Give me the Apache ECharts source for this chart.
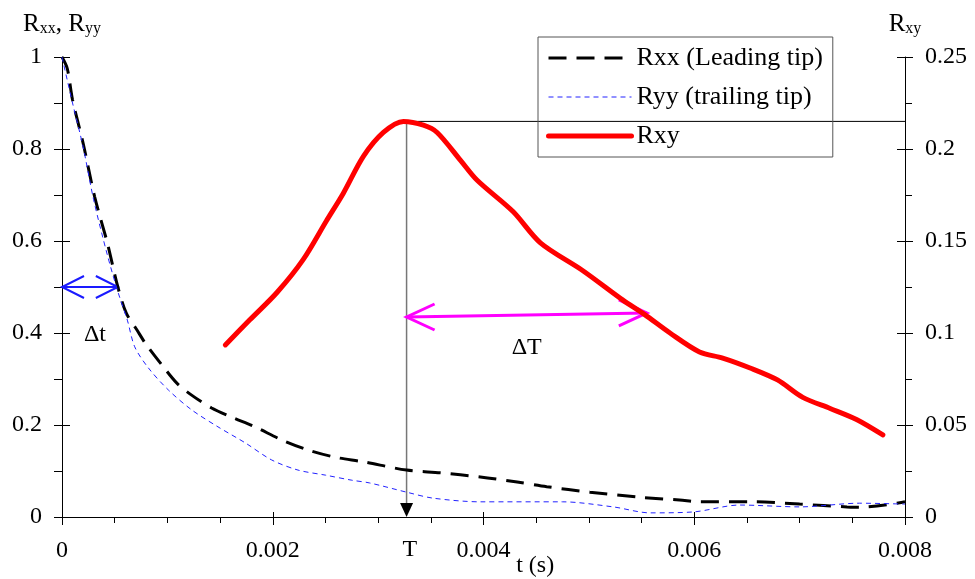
<!DOCTYPE html>
<html><head><meta charset="utf-8">
<script src="https://cdn.jsdelivr.net/npm/echarts@6/dist/echarts.min.js"></script>
<style>html,body{margin:0;padding:0;background:#fff}#c{width:975px;height:579px}</style>
</head><body><div id="c"></div>
<script>
// ---- data ----
const rxxT = [0, 0.00005, 0.0001, 0.0002, 0.00031, 0.00043, 0.00053, 0.00061, 0.00071, 0.00079, 0.00095, 0.00109, 0.00123, 0.00142, 0.00161, 0.00183, 0.00209, 0.00233, 0.00259, 0.00286, 0.00327, 0.00359, 0.00397, 0.00432, 0.0046, 0.00501, 0.00548, 0.00586, 0.00605, 0.00656, 0.007, 0.00745, 0.00757, 0.008];
const rxxV = [1.0, 0.975, 0.907, 0.813, 0.696, 0.596, 0.50, 0.443, 0.407, 0.378, 0.330, 0.291, 0.265, 0.237, 0.217, 0.196, 0.167, 0.146, 0.130, 0.120, 0.102, 0.096, 0.087, 0.076, 0.066, 0.054, 0.043, 0.037, 0.033, 0.033, 0.028, 0.022, 0.021, 0.033];
const ryyT = [0, 0.0001, 0.0002, 0.0003, 0.00043, 0.00053, 0.00062, 0.00069, 0.00082, 0.00101, 0.00123, 0.00148, 0.00174, 0.00199, 0.00224, 0.0025, 0.00275, 0.00292, 0.00327, 0.00352, 0.00397, 0.00475, 0.00523, 0.00558, 0.00599, 0.00643, 0.007, 0.00757, 0.008];
const ryyV = [1.0, 0.90, 0.805, 0.69, 0.57, 0.49, 0.428, 0.37, 0.324, 0.276, 0.233, 0.196, 0.161, 0.124, 0.102, 0.091, 0.080, 0.074, 0.054, 0.041, 0.033, 0.033, 0.022, 0.009, 0.011, 0.026, 0.022, 0.030, 0.028];
const rxyT = [0.00155, 0.00178, 0.00204, 0.00229, 0.00251, 0.00267, 0.00286, 0.00305, 0.00324, 0.00343, 0.00356, 0.00378, 0.00394, 0.00428, 0.00454, 0.00494, 0.00532, 0.00553, 0.00577, 0.00605, 0.00627, 0.00653, 0.00679, 0.00703, 0.00729, 0.00754, 0.00779];
const rxyV = [0.0935, 0.107, 0.122, 0.140, 0.161, 0.176, 0.196, 0.209, 0.215, 0.213, 0.209, 0.194, 0.183, 0.166, 0.149, 0.134, 0.118, 0.110, 0.100, 0.0897, 0.0864, 0.081, 0.0745, 0.065, 0.059, 0.053, 0.0446];
const seriesNames = ['Rxx (Leading tip)', 'Ryy (trailing tip)', 'Rxy'];
// axis ranges / ticks
const xRange = [0, 0.008], xStep = 0.002;
const yLeftRange = [0, 1], yLeftStep = 0.2;
const yRightRange = [0, 0.25], yRightStep = 0.05;
// annotations (data units)
const peakT = 0.00327, peakV = 0.215;           // T line / horizontal line (right axis)
const dtArrow = [[0, 0.5], [0.00053, 0.5]];     // left axis
const dTArrow = [[0.00327, 0.1087], [0.00555, 0.1109]]; // right axis
const dtLabel = [0.000313, 0.396];
const dTLabel = [0.00441, 0.0918];
const tLabelT = 0.0033;

const FONT = 'Liberation Serif, Times New Roman, serif';
const chart = echarts.init(document.getElementById('c'), null, {renderer: 'canvas'});
const zip = (a, b) => a.map((v, i) => [v, b[i]]);
const axisCommon = {
  axisLine: {show: true, onZero: false, lineStyle: {color: '#000', width: 1}},
  splitLine: {show: false},
  axisLabel: {color: '#000', fontFamily: FONT, fontSize: 24}
};
const tickInner = (extra) => Object.assign({
  axisLine: {show: false, onZero: false}, splitLine: {show: false}, axisLabel: {show: false},
  axisTick: {show: true, inside: true, length: 8, lineStyle: {color: '#000'}}, minorTick: {show: false}
}, extra);
const richName = {
  a: {fontFamily: FONT, fontSize: 25, color: '#000', verticalAlign: 'bottom', lineHeight: 30},
  b: {fontFamily: FONT, fontSize: 16, color: '#000', verticalAlign: 'bottom', lineHeight: 14}
};

chart.setOption({
  animation: false,
  backgroundColor: '#fff',
  grid: {left: 62, right: 70, top: 57, bottom: 62, containLabel: false, outerBoundsMode: 'none'},
  legend: {
    data: seriesNames, orient: 'vertical', left: 538, top: 37,
    itemWidth: 83, itemHeight: 14, itemGap: 13,
    padding: [8, 10, 8, 8], borderColor: '#555', borderWidth: 1, backgroundColor: 'transparent',
    itemStyle: {opacity: 0},
    lineStyle: {width: 'inherit'},
    textStyle: {fontFamily: FONT, fontSize: 26, color: '#000'}
  },
  xAxis: [
    Object.assign({}, axisCommon, {type: 'value', min: xRange[0], max: xRange[1], interval: xStep, position: 'bottom',
      axisTick: {show: true, length: 8, lineStyle: {color: '#000'}},
      minorTick: {show: true, splitNumber: 4, length: 6, lineStyle: {color: '#000'}},
      axisLabel: Object.assign({}, axisCommon.axisLabel, {margin: 22, formatter: v => String(+v.toFixed(3))})}),
    tickInner({type: 'value', min: xRange[0], max: xRange[1], interval: xStep, position: 'bottom', axisTick: {show: true, inside: true, length: 5, lineStyle: {color: '#000'}}})
  ],
  yAxis: [
    Object.assign({}, axisCommon, {type: 'value', min: yLeftRange[0], max: yLeftRange[1], interval: yLeftStep, position: 'left',
      axisTick: {show: true, length: 8, lineStyle: {color: '#000'}},
      minorTick: {show: true, splitNumber: 2, length: 8, lineStyle: {color: '#000'}},
      axisLabel: Object.assign({}, axisCommon.axisLabel, {margin: 20, formatter: v => String(+v.toFixed(2))}),
      name: '{a|R}{b|xx}{a|, R}{b|yy}', nameLocation: 'end', nameGap: 20,
      nameTextStyle: {rich: richName}}),
    Object.assign({}, axisCommon, {type: 'value', min: yRightRange[0], max: yRightRange[1], interval: yRightStep, position: 'right',
      axisTick: {show: true, length: 8, lineStyle: {color: '#000'}},
      minorTick: {show: true, splitNumber: 2, length: 7, lineStyle: {color: '#000'}},
      axisLabel: Object.assign({}, axisCommon.axisLabel, {margin: 20, formatter: v => String(+v.toFixed(2))}),
      name: '{a|R}{b|xy}', nameLocation: 'end', nameGap: 20,
      nameTextStyle: {rich: richName}}),
    tickInner({type: 'value', min: yLeftRange[0], max: yLeftRange[1], interval: yLeftStep, position: 'left'}),
    tickInner({type: 'value', min: yRightRange[0], max: yRightRange[1], interval: yRightStep, position: 'right'})
  ],
  series: [
    {name: seriesNames[0], type: 'line', xAxisIndex: 0, yAxisIndex: 0, data: zip(rxxT, rxxV), symbol: 'none', smooth: 0.3,
      itemStyle: {color: '#000'}, lineStyle: {color: '#000', width: 3, type: [18, 10]}, z: 3},
    {name: seriesNames[1], type: 'line', xAxisIndex: 0, yAxisIndex: 0, data: zip(ryyT, ryyV), symbol: 'none', smooth: 0.3,
      itemStyle: {color: '#2222ff'}, lineStyle: {color: '#2222ff', width: 1, type: [5, 4]}, z: 3},
    {name: seriesNames[2], type: 'line', xAxisIndex: 0, yAxisIndex: 1, data: zip(rxyT, rxyV), symbol: 'none', smooth: 0.3,
      itemStyle: {color: '#ff0000'}, lineStyle: {color: '#ff0000', width: 5, cap: 'round', join: 'round'}, z: 4}
  ]
});

// ---- annotations from data via the chart's scales ----
const pL = (t, v) => chart.convertToPixel({seriesIndex: 0}, [t, v]);
const pR = (t, v) => chart.convertToPixel({seriesIndex: 2}, [t, v]);
function vArrow(a, b, len, spread, color, w) {
  const els = [{type: 'line', shape: {x1: a[0], y1: a[1], x2: b[0], y2: b[1]}, style: {stroke: color, lineWidth: w}}];
  const head = (tip, dir) => {
    const bx = tip[0] - dir * len, by = tip[1];
    return {type: 'polyline', shape: {points: [[bx, by - spread], tip, [bx, by + spread]]},
      style: {stroke: color, lineWidth: w, fill: null}};
  };
  els.push(head(b, 1), head(a, -1));
  return els;
}
const peakPx = pR(peakT, peakV), basePx = pR(peakT, 0), rightEnd = pR(xRange[1], peakV);
const g = [];
g.push({type: 'line', shape: {x1: peakPx[0], y1: peakPx[1], x2: basePx[0], y2: basePx[1] - 12}, style: {stroke: '#777', lineWidth: 1.5}});
g.push({type: 'polygon', shape: {points: [[basePx[0] - 6.5, basePx[1] - 14], [basePx[0] + 6.5, basePx[1] - 14], [basePx[0], basePx[1]]]}, style: {fill: '#000'}});
g.push({type: 'line', shape: {x1: peakPx[0], y1: peakPx[1], x2: rightEnd[0], y2: rightEnd[1]}, style: {stroke: '#000', lineWidth: 1}});
vArrow(pL(dtArrow[0][0], dtArrow[0][1]), pL(dtArrow[1][0], dtArrow[1][1]), 22, 11, '#1a1aff', 2).forEach(e => g.push(e));
vArrow(pR(dTArrow[0][0], dTArrow[0][1]), pR(dTArrow[1][0], dTArrow[1][1]), 28, 13, '#ff00ff', 3).forEach(e => g.push(e));
const txt = (p, s, size) => ({type: 'text', x: p[0], y: p[1], style: {text: s, fontFamily: FONT, fontSize: size || 24, fill: '#000', align: 'center', verticalAlign: 'middle'}});
g.push(txt(pL(dtLabel[0], dtLabel[1]), 'Δt'));
g.push(txt(pR(dTLabel[0], dTLabel[1]), 'ΔT'));
const tl = pL(tLabelT, 0);
g.push(txt([tl[0], tl[1] + 33], 'T'));
const xm = pL(0.00449, 0);
g.push(txt([xm[0], xm[1] + 49], 't (s)'));
chart.setOption({graphic: g.map(e => Object.assign({z: 1}, e))});
</script>
</body></html>
